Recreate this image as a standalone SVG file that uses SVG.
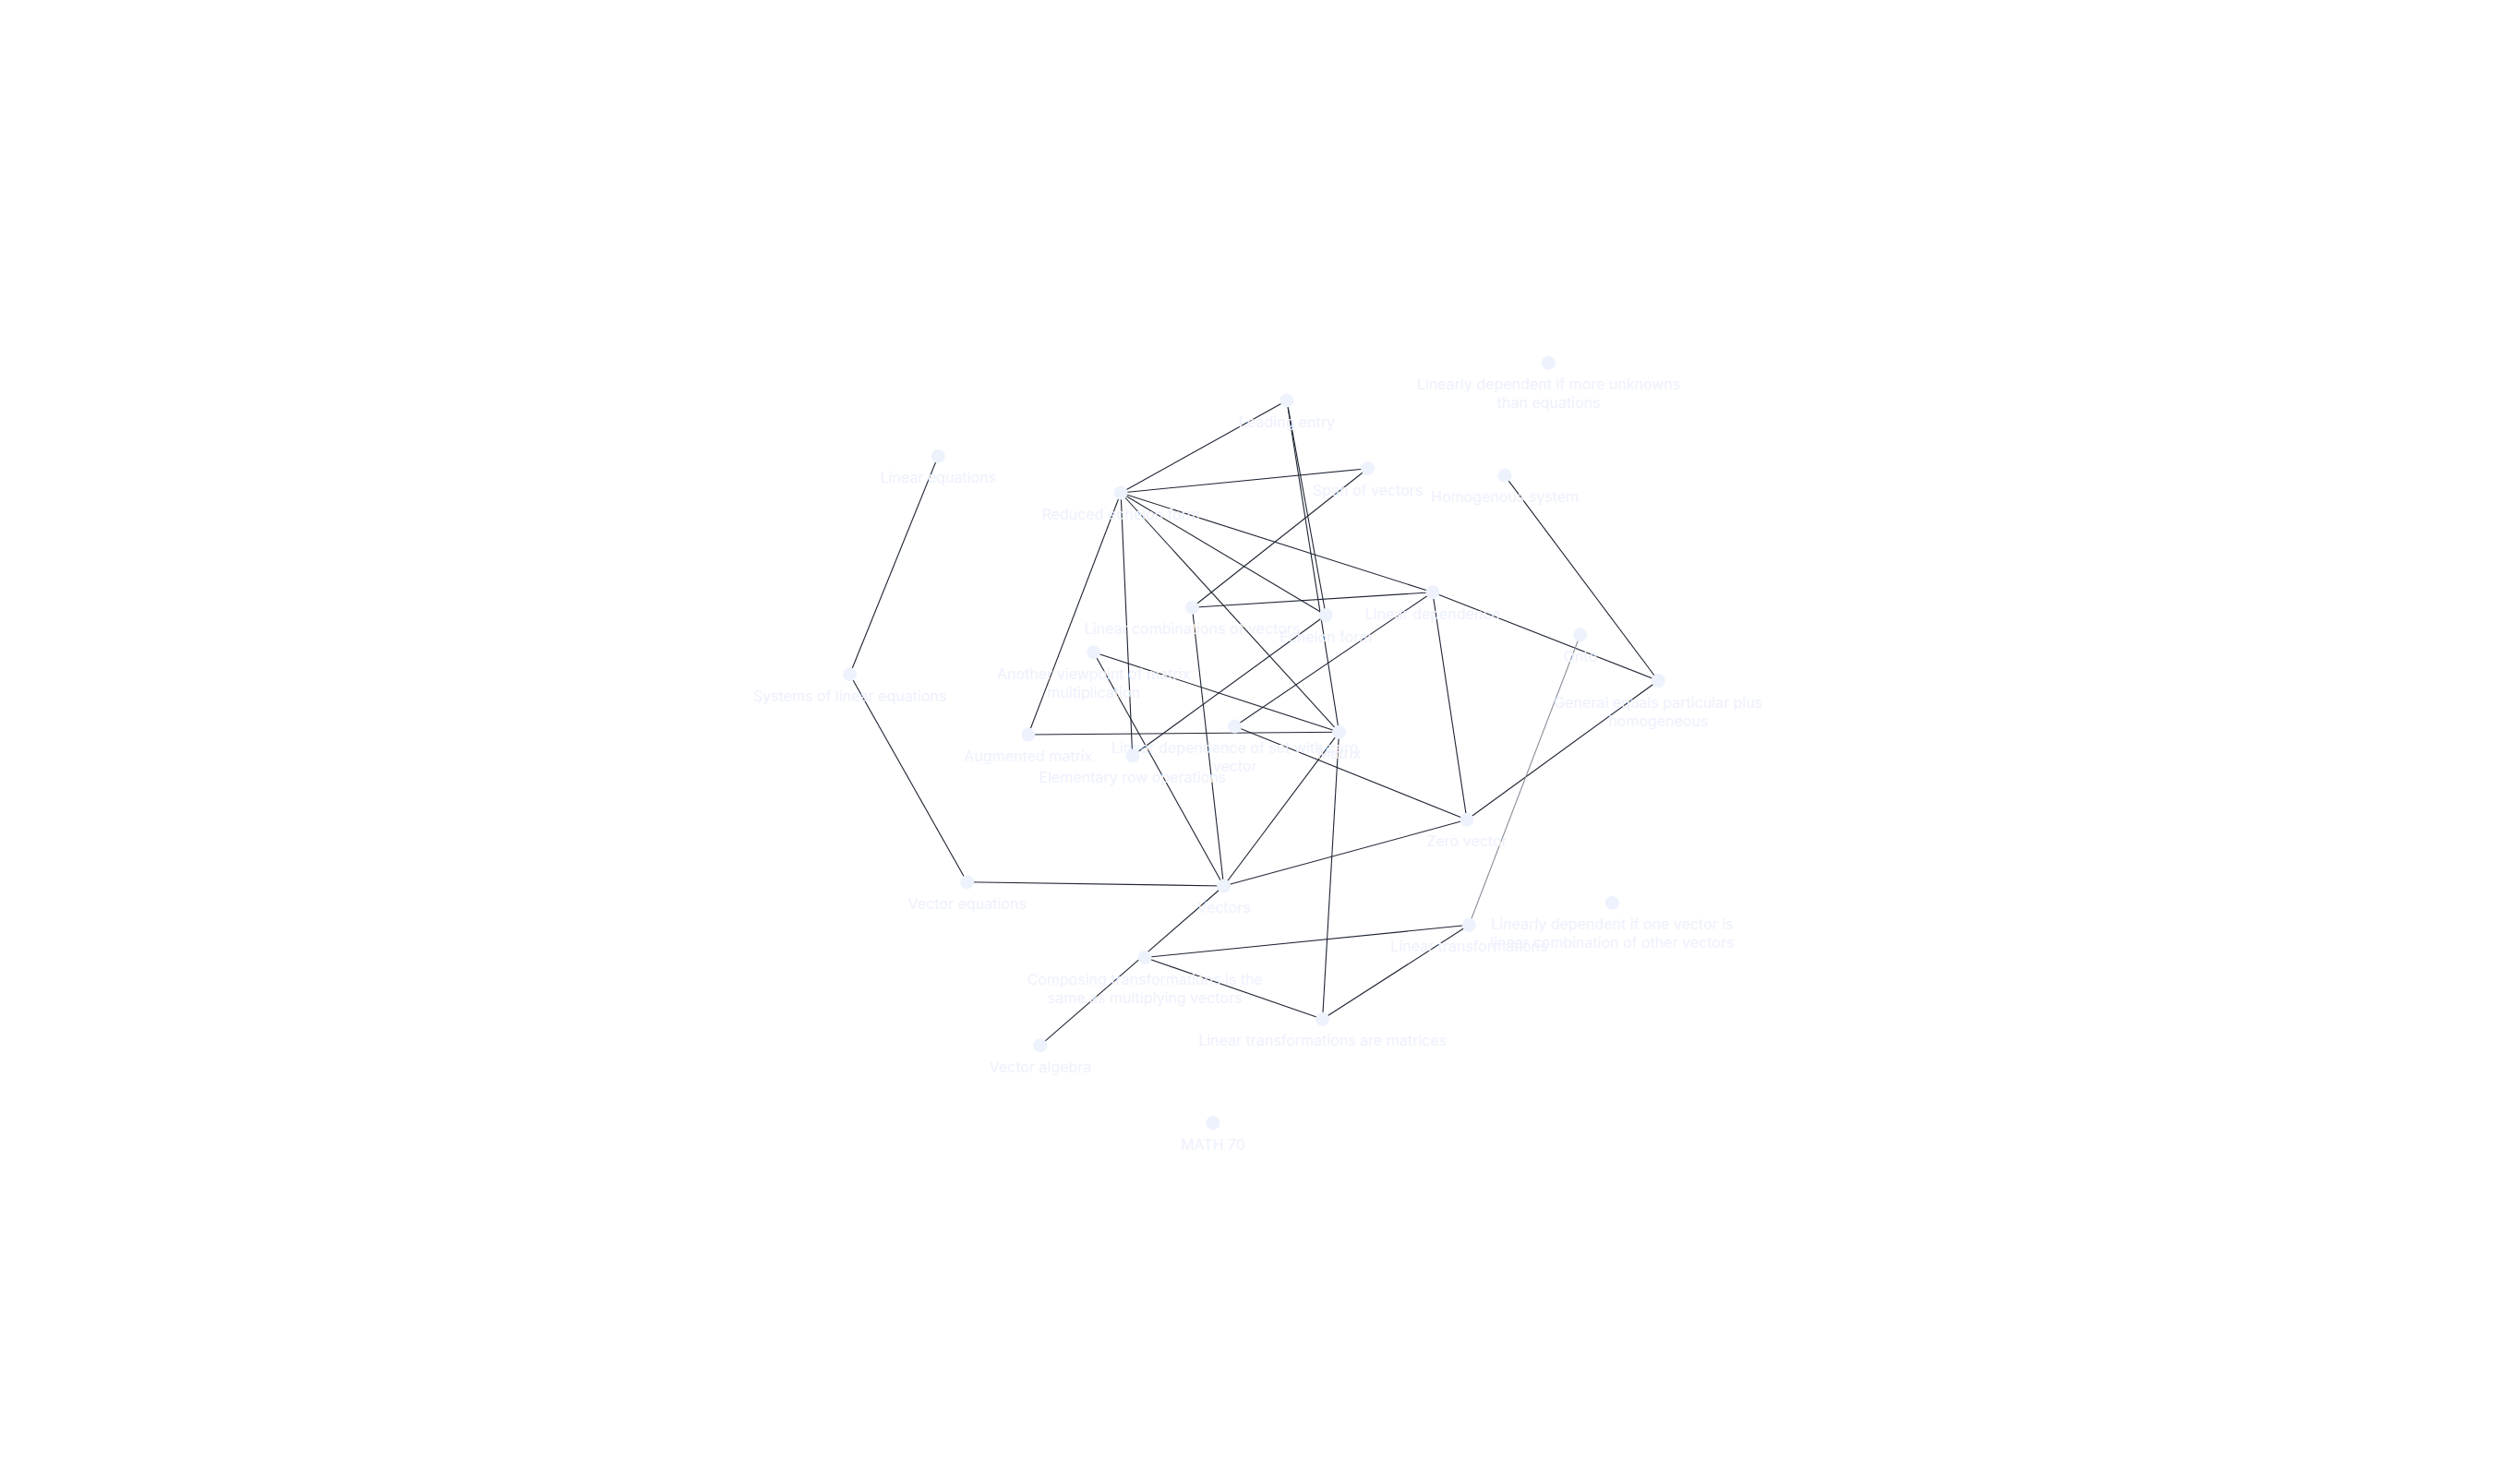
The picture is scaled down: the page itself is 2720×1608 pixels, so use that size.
<svg xmlns="http://www.w3.org/2000/svg" width="2720" height="1608" viewBox="0 0 2720 1608">
<style>
.e{stroke:#1e2533;stroke-width:1.1;fill:none}
.eg{stroke:#8a8f98;stroke-width:1.1;fill:none}
.n circle{fill:#edf2fc}
.n text{font-family:Inter,"Noto Sans","Liberation Sans",sans-serif;font-size:16px;fill:#eef1fd;text-anchor:middle}
</style>
<rect width="2720" height="1608" fill="#ffffff"/>
<g id="edges">
<line class="e" x1="1016.2" y1="494.3" x2="920.5" y2="730.7"/>
<line class="e" x1="920.5" y1="730.7" x2="1047.6" y2="955.7"/>
<line class="e" x1="1047.6" y1="955.7" x2="1325.6" y2="960"/>
<line class="e" x1="1214.1" y1="534" x2="1393.9" y2="434"/>
<line class="e" x1="1214.1" y1="534" x2="1481.5" y2="507.7"/>
<line class="e" x1="1214.1" y1="534" x2="1551.8" y2="641.7"/>
<line class="e" x1="1214.1" y1="534" x2="1436.2" y2="666.5"/>
<line class="e" x1="1214.1" y1="534" x2="1450.5" y2="793.3"/>
<line class="e" x1="1214.1" y1="534" x2="1226.7" y2="819"/>
<line class="e" x1="1214.1" y1="534" x2="1113.8" y2="796"/>
<line class="e" x1="1393.9" y1="434" x2="1436.2" y2="666.5"/>
<line class="e" x1="1393.9" y1="434" x2="1450.5" y2="793.3"/>
<line class="e" x1="1481.5" y1="507.7" x2="1291.4" y2="658.3"/>
<line class="e" x1="1291.4" y1="658.3" x2="1551.8" y2="641.7"/>
<line class="e" x1="1291.4" y1="658.3" x2="1325.6" y2="960"/>
<line class="e" x1="1184.6" y1="706.7" x2="1450.5" y2="793.3"/>
<line class="e" x1="1184.6" y1="706.7" x2="1325.6" y2="960"/>
<line class="e" x1="1113.8" y1="796" x2="1450.5" y2="793.3"/>
<line class="e" x1="1226.7" y1="819" x2="1436.2" y2="666.5"/>
<line class="e" x1="1337.5" y1="787" x2="1551.8" y2="641.7"/>
<line class="e" x1="1337.5" y1="787" x2="1589" y2="888.3"/>
<line class="e" x1="1551.8" y1="641.7" x2="1589" y2="888.3"/>
<line class="e" x1="1551.8" y1="641.7" x2="1796.2" y2="737.5"/>
<line class="e" x1="1630" y1="515.3" x2="1796.2" y2="737.5"/>
<line class="e" x1="1589" y1="888.3" x2="1796.2" y2="737.5"/>
<line class="e" x1="1450.5" y1="793.3" x2="1325.6" y2="960"/>
<line class="e" x1="1325.6" y1="960" x2="1589" y2="888.3"/>
<line class="e" x1="1325.6" y1="960" x2="1126.8" y2="1132.7"/>
<line class="e" x1="1240.1" y1="1037.5" x2="1591.3" y2="1002.3"/>
<line class="e" x1="1240.1" y1="1037.5" x2="1432.6" y2="1104.3"/>
<line class="e" x1="1432.6" y1="1104.3" x2="1591.3" y2="1002.3"/>
<line class="e" x1="1450.5" y1="793.3" x2="1432.6" y2="1104.3"/>
<line class="eg" x1="1711.8" y1="687.7" x2="1591.3" y2="1002.3"/>
</g>
<g id="node-linear-equations" class="n"><circle cx="1016.2" cy="494.3" r="7.5"/><text x="1016.2" y="523">Linear equations</text></g>
<g id="node-reduced-echelon-form" class="n"><circle cx="1214.1" cy="534" r="7.5"/><text x="1214.1" y="563">Reduced echelon form</text></g>
<g id="node-leading-entry" class="n"><circle cx="1393.9" cy="434" r="7.5"/><text x="1393.9" y="463">Leading entry</text></g>
<g id="node-span-of-vectors" class="n"><circle cx="1481.5" cy="507.7" r="7.5"/><text x="1481.5" y="536.7">Span of vectors</text></g>
<g id="node-homogenous-system" class="n"><circle cx="1630" cy="515.3" r="7.5"/><text x="1630" y="544.3">Homogenous system</text></g>
<g id="node-dependent-more-unknowns" class="n"><circle cx="1677.5" cy="393.3" r="7.5"/><text x="1677.5" y="422.3">Linearly dependent if more unknowns</text><text x="1677.5" y="442.3">than equations</text></g>
<g id="node-systems-of-linear-equations" class="n"><circle cx="920.5" cy="730.7" r="7.5"/><text x="920.5" y="759.7">Systems of linear equations</text></g>
<g id="node-linear-combinations" class="n"><circle cx="1291.4" cy="658.3" r="7.5"/><text x="1291.4" y="687.3">Linear combinations of vectors</text></g>
<g id="node-echelon-form" class="n"><circle cx="1436.2" cy="666.5" r="7.5"/><text x="1436.2" y="695.5">Echelon form</text></g>
<g id="node-linear-dependence" class="n"><circle cx="1551.8" cy="641.7" r="7.5"/><text x="1551.8" y="670.7">Linear dependence</text></g>
<g id="node-another-viewpoint" class="n"><circle cx="1184.6" cy="706.7" r="7.5"/><text x="1184.6" y="735.7">Another viewpoint of matrix</text><text x="1184.6" y="755.7">multiplication</text></g>
<g id="node-augmented-matrix" class="n"><circle cx="1113.8" cy="796" r="7.5"/><text x="1113.8" y="825">Augmented matrix</text></g>
<g id="node-elementary-row-operations" class="n"><circle cx="1226.7" cy="819" r="7.5"/><text x="1226.7" y="848">Elementary row operations</text></g>
<g id="node-dependence-zero-vector" class="n"><circle cx="1337.5" cy="787" r="7.5"/><text x="1337.5" y="816">Linear dependence of set with zero</text><text x="1337.5" y="836">vector</text></g>
<g id="node-matrix" class="n"><circle cx="1450.5" cy="793.3" r="7.5"/><text x="1450.5" y="822.3">Matrix</text></g>
<g id="node-onto" class="n"><circle cx="1711.8" cy="687.7" r="7.5"/><text x="1711.8" y="716.7">Onto</text></g>
<g id="node-general-particular" class="n"><circle cx="1796.2" cy="737.5" r="7.5"/><text x="1796.2" y="766.5">General equals particular plus</text><text x="1796.2" y="786.5">homogeneous</text></g>
<g id="node-zero-vector" class="n"><circle cx="1589" cy="888.3" r="7.5"/><text x="1589" y="917.3">Zero vector</text></g>
<g id="node-vector-equations" class="n"><circle cx="1047.6" cy="955.7" r="7.5"/><text x="1047.6" y="984.7">Vector equations</text></g>
<g id="node-vectors" class="n"><circle cx="1325.6" cy="960" r="7.5"/><text x="1325.6" y="989">Vectors</text></g>
<g id="node-composing" class="n"><circle cx="1240.1" cy="1037.5" r="7.5"/><text x="1240.1" y="1066.5">Composing transformations is the</text><text x="1240.1" y="1086.5">same as multiplying vectors</text></g>
<g id="node-linear-transformations" class="n"><circle cx="1591.3" cy="1002.3" r="7.5"/><text x="1591.3" y="1031.3">Linear transformations</text></g>
<g id="node-dependent-one-vector" class="n"><circle cx="1746.3" cy="978.3" r="7.5"/><text x="1746.3" y="1007.3">Linearly dependent if one vector is</text><text x="1746.3" y="1027.3">linear combination of other vectors</text></g>
<g id="node-transformations-matrices" class="n"><circle cx="1432.6" cy="1104.3" r="7.5"/><text x="1432.6" y="1133.3">Linear transformations are matrices</text></g>
<g id="node-vector-algebra" class="n"><circle cx="1126.8" cy="1132.7" r="7.5"/><text x="1126.8" y="1161.7">Vector algebra</text></g>
<g id="node-math-70" class="n"><circle cx="1313.9" cy="1216.7" r="7.5"/><text x="1313.9" y="1245.7">MATH 70</text></g>
</svg>
